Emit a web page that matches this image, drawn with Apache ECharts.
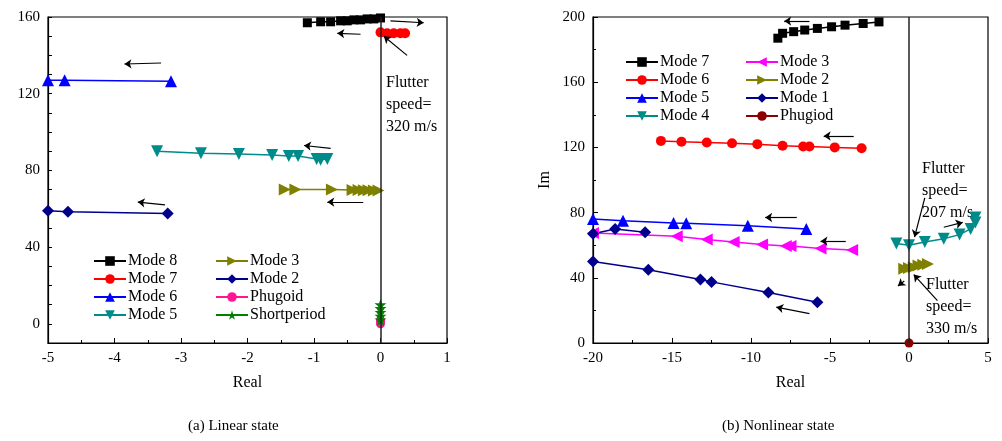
<!DOCTYPE html>
<html>
<head>
<meta charset="utf-8">
<script src="https://cdn.jsdelivr.net/npm/echarts@6/dist/echarts.min.js"></script>
<style>
    html, body { margin: 0; padding: 0; background: #fff; }
    #chart { width: 1002px; height: 441px; }
</style>
</head>
<body>
<div id="chart"></div>
<script>
// ---- (a) linear state ----
var linMode8 = [[-1.1, 157], [-0.9, 157.5], [-0.75, 157.5], [-0.6, 158], [-0.5, 158], [-0.4, 158.5], [-0.3, 158.5], [-0.2, 159], [-0.1, 159], [0, 159.5]];
var linMode7 = [[0, 152], [0.1, 151.5], [0.2, 151.5], [0.3, 151.5], [0.37, 151.5]];
var linMode6 = [[-5, 127], [-4.75, 127], [-3.15, 126.5]];
var linMode5 = [[-3.36, 90], [-2.7, 89], [-2.13, 88.5], [-1.63, 88], [-1.38, 87.5], [-1.24, 87.5], [-0.96, 86], [-0.9, 85.5], [-0.8, 86]];
var linMode3 = [[-1.44, 70], [-1.28, 70], [-0.73, 70], [-0.42, 69.8], [-0.33, 69.8], [-0.25, 69.7], [-0.18, 69.6], [-0.1, 69.5], [-0.03, 69.5]];
var linMode2 = [[-5, 59], [-4.7, 58.5], [-3.2, 57.5]];
var linPhugoid = [[0, 0], [0, 1], [0, 2]];
var linShort = [[0, 2], [0, 4], [0, 6], [0, 8], [0, 10]];
var linArrows = [
    [[-0.3, 151], [-0.65, 151.5]],
    [[0.15, 158], [0.65, 157]],
    [[-3.3, 136], [-3.85, 135.5]],
    [[-0.75, 91.5], [-1.15, 93]],
    [[-0.26, 63.5], [-0.8, 63.5]],
    [[-3.24, 62], [-3.65, 63.5]],
    [[0.4, 140], [0.05, 150]]
];

// ---- (b) nonlinear state ----
var nlMode7 = [[-8.3, 187], [-8.0, 190], [-7.3, 191], [-6.6, 192], [-5.8, 193], [-4.9, 194], [-4.05, 195], [-2.9, 196], [-1.9, 197]];
var nlMode6 = [[-15.7, 124], [-14.4, 123.5], [-12.8, 123], [-11.2, 122.5], [-9.6, 122], [-8.0, 121], [-6.7, 120.5], [-6.3, 120.5], [-4.7, 120], [-3.0, 119.5]];
var nlMode5 = [[-20, 76], [-18.1, 75], [-14.9, 73.6], [-14.1, 73.5], [-10.2, 72], [-6.5, 70]];
var nlMode4 = [[-0.8, 61], [0, 60], [1, 62], [2.2, 64], [3.2, 66.5], [3.9, 70], [4.2, 74], [4.2, 77]];
var nlMode3 = [[-20, 67.5], [-14.7, 65.5], [-12.8, 63.5], [-11.1, 62], [-9.3, 60.5], [-7.8, 59.5], [-7.5, 59.5], [-5.6, 58], [-3.6, 57]];
var nlMode2 = [[-0.3, 45.5], [0, 46], [0.3, 46.5], [0.6, 47.5], [0.9, 48], [1.2, 48.5]];
var nlMode1a = [[-20, 67], [-18.6, 70], [-16.7, 68]];
var nlMode1b = [[-20, 50], [-16.5, 45], [-13.2, 39], [-12.5, 37.5], [-8.9, 31], [-5.8, 25]];
var nlPhugiod = [[0, 0]];
var nlArrows = [
    [[-6.3, 197.5], [-7.9, 197.5]],
    [[-3.5, 127], [-5.4, 127]],
    [[-7.1, 77], [-9.1, 77]],
    [[-4.0, 62.5], [-5.6, 62.5]],
    [[-6.3, 18], [-8.4, 22]],
    [[2.2, 71], [3.4, 74]],
    [[1.0, 89], [0.35, 65]],
    [[1.8, 26], [0.3, 42]],
    [[-0.3, 38], [-0.7, 35]]
];

var STAR = 'path://M50,0 L61,35 L98,35 L68,57 L79,91 L50,70 L21,91 L32,57 L2,35 L39,35 Z';
var serif = 'Liberation Serif';

function line( name, data, color, symbol, idx, opt ) {
    var s = {
        name: name, type: 'line', data: data, xAxisIndex: idx, yAxisIndex: idx,
        symbol: symbol, symbolSize: 12, showSymbol: true,
        lineStyle: { color: color, width: 1.5 },
        itemStyle: { color: color },
        animation: false, z: 3
    };
    if ( opt ) for ( var k in opt ) s[k] = opt[k];
    return s;
}

function arrows( list, idx ) {
    return {
        type: 'line', data: [], xAxisIndex: idx, yAxisIndex: idx, silent: true,
        markLine: {
            silent: true, symbol: ['none', 'arrow'], symbolSize: 7, animation: false,
            label: { show: false },
            lineStyle: { color: '#000', type: 'solid', width: 1.2 },
            data: list.map( function ( a ) { return [{ coord: a[0] }, { coord: a[1] }]; } )
        }
    };
}

function zeroLine( idx ) {
    return {
        type: 'line', data: [], xAxisIndex: idx, yAxisIndex: idx, silent: true,
        markLine: {
            silent: true, symbol: 'none', animation: false, label: { show: false },
            lineStyle: { color: '#222', type: 'solid', width: 1.5 },
            data: [{ xAxis: 0 }]
        }
    };
}

function xAx( idx, min, max, interval ) {
    return {
        gridIndex: idx, type: 'value', min: min, max: max, interval: interval,
        name: 'Real', nameLocation: 'middle', nameGap: 32,
        nameTextStyle: { fontFamily: serif, fontSize: 16, color: '#000' },
        axisLine: { onZero: false, lineStyle: { color: '#000', width: 1.2 } },
        axisTick: { inside: true, length: 5, lineStyle: { color: '#000' } },
        minorTick: { show: true, splitNumber: 2, length: 3, lineStyle: { color: '#000' } },
        axisLabel: { fontFamily: serif, fontSize: 15, color: '#000', margin: 8 },
        splitLine: { show: false }
    };
}

var option = {
    backgroundColor: '#fff',
    animation: false,
    grid: [
        { left: 48, right: 555, top: 17, bottom: 98, show: true, borderColor: '#000', borderWidth: 1.2 },
        { left: 593, right: 14, top: 17, bottom: 98, show: true, borderColor: '#000', borderWidth: 1.2 }
    ],
    xAxis: [ xAx( 0, -5, 1, 1 ), xAx( 1, -20, 5, 5 ) ],
    yAxis: [{
        gridIndex: 0, type: 'value', min: -10, max: 160, interval: 10,
        axisLine: { onZero: false, lineStyle: { color: '#000', width: 1.2 } },
        axisTick: { inside: true, length: 4, lineStyle: { color: '#000' } },
        axisLabel: {
            fontFamily: serif, fontSize: 15, color: '#000',
            formatter: function ( v ) { return v % 40 === 0 ? v : ''; }
        },
        splitLine: { show: false }
    }, {
        gridIndex: 1, type: 'value', min: 0, max: 200, interval: 40,
        name: 'Im', nameLocation: 'middle', nameGap: 40,
        nameTextStyle: { fontFamily: serif, fontSize: 16, color: '#000' },
        axisLine: { onZero: false, lineStyle: { color: '#000', width: 1.2 } },
        axisTick: { inside: true, length: 5, lineStyle: { color: '#000' } },
        minorTick: { show: true, splitNumber: 2, length: 3, lineStyle: { color: '#000' } },
        axisLabel: { fontFamily: serif, fontSize: 15, color: '#000' },
        splitLine: { show: false }
    }],
    legend: [
        { data: ['Mode 8', 'Mode 7', 'Mode 6', 'Mode 5'], left: 88, top: 248 },
        { data: ['Mode 3', 'Mode 2', 'Phugoid', 'Shortperiod'], left: 210, top: 248 },
        { data: ['Mode 7 ', 'Mode 6 ', 'Mode 5 ', 'Mode 4 '], left: 620, top: 49 },
        { data: ['Mode 3 ', 'Mode 2 ', 'Mode 1 ', 'Phugiod'], left: 740, top: 49 }
    ].map( function ( l ) {
        l.orient = 'vertical'; l.itemGap = 2; l.itemWidth = 32; l.itemHeight = 12;
        l.textStyle = { fontFamily: serif, fontSize: 16, color: '#000', padding: [0, 0, 0, -3] };
        return l;
    } ),
    graphic: [
        { type: 'text', left: 386, top: 72, style: { text: 'Flutter\nspeed=\n320 m/s', font: '16px "Liberation Serif"', fill: '#000', lineHeight: 22 } },
        { type: 'text', left: 922, top: 158, style: { text: 'Flutter\nspeed=\n207 m/s', font: '16px "Liberation Serif"', fill: '#000', lineHeight: 22 } },
        { type: 'text', left: 926, top: 274, style: { text: 'Flutter\nspeed=\n330 m/s', font: '16px "Liberation Serif"', fill: '#000', lineHeight: 22 } },
        { type: 'text', left: 188, top: 419, style: { text: '(a) Linear state', font: '15px "Liberation Serif"', fill: '#000' } },
        { type: 'text', left: 722, top: 419, style: { text: '(b) Nonlinear state', font: '15px "Liberation Serif"', fill: '#000' } }
    ],
    series: [
        zeroLine( 0 ), zeroLine( 1 ),
        line( 'Mode 8', linMode8, '#000000', 'rect', 0, { symbolSize: 9 } ),
        line( 'Mode 7', linMode7, '#ff0000', 'circle', 0, { symbolSize: 10 } ),
        line( 'Mode 6', linMode6, '#0000ff', 'triangle', 0 ),
        line( 'Mode 5', linMode5, '#008b8b', 'triangle', 0, { symbolRotate: 180 } ),
        line( 'Mode 3', linMode3, '#808000', 'triangle', 0, { symbolRotate: -90 } ),
        line( 'Mode 2', linMode2, '#00008b', 'diamond', 0 ),
        line( 'Phugoid', linPhugoid, '#ff1493', 'circle', 0, { symbolSize: 9 } ),
        line( 'Shortperiod', linShort, '#008000', STAR, 0 ),
        arrows( linArrows, 0 ),
        line( 'Mode 7 ', nlMode7, '#000000', 'rect', 1, { symbolSize: 9 } ),
        line( 'Mode 6 ', nlMode6, '#ff0000', 'circle', 1, { symbolSize: 10 } ),
        line( 'Mode 5 ', nlMode5, '#0000ff', 'triangle', 1 ),
        line( 'Mode 4 ', nlMode4, '#008b8b', 'triangle', 1, { symbolRotate: 180 } ),
        line( 'Mode 3 ', nlMode3, '#ff00ff', 'triangle', 1, { symbolRotate: 90 } ),
        line( 'Mode 2 ', nlMode2, '#808000', 'triangle', 1, { symbolRotate: -90 } ),
        line( 'Mode 1 ', nlMode1a, '#00008b', 'diamond', 1 ),
        line( 'Mode 1 ', nlMode1b, '#00008b', 'diamond', 1 ),
        line( 'Phugiod', nlPhugiod, '#8b0000', 'circle', 1, { symbolSize: 9 } ),
        arrows( nlArrows, 1 )
    ]
};

var chart = echarts.init( document.getElementById( 'chart' ), null, { renderer: 'canvas' } );
chart.setOption( option );
</script>
</body>
</html>
